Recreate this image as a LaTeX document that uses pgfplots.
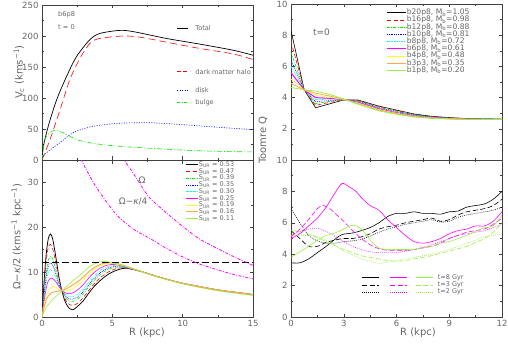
\documentclass[border=0pt]{standalone}
\usepackage{fontspec}
\setmainfont{DejaVu Sans}
\usepackage{pgfplots}
\pgfplotsset{compat=1.18}
\definecolor{labelgray}{HTML}{666666}
\definecolor{framegray}{HTML}{404040}
\definecolor{smgreen}{HTML}{00F000}
\definecolor{smcyan}{HTML}{00FFFF}
\definecolor{smmag}{HTML}{FF00FF}
\definecolor{smyellow}{HTML}{FFFF20}
\definecolor{smorange}{HTML}{FFA850}
\definecolor{smlime}{HTML}{99F040}
\newcommand{\ticksz}{\fontsize{8.5}{10}\selectfont}
\newcommand{\legsz}{\fontsize{6.6}{8}\selectfont}
\tikzset{
  c1/.style={color=black, line width=0.75pt},
  c2/.style={color=red, dash pattern=on 4pt off 2.5pt},
  c3/.style={color=smgreen, dash pattern=on 3pt off 1.3pt on 0.7pt off 1.3pt},
  c4/.style={color=blue, dash pattern=on 0.8pt off 1pt},
  c5/.style={color=smcyan, dash pattern=on 2.5pt off 1pt on 0.7pt off 1pt on 0.7pt off 1pt},
  c6/.style={color=smmag},
  c7/.style={color=smyellow},
  c8/.style={color=smorange, line width=1pt},
  c9/.style={color=smlime},
}
\pgfplotsset{
  panel/.style={
    scale only axis, width=211pt,
    axis line style={framegray, line width=0.6pt},
    tick style={framegray, line width=0.5pt},
    major tick length=3.5pt, minor tick length=2pt,
    minor tick num=1,
    tick label style={font=\ticksz, text=labelgray},
    /pgf/number format/assume math mode=true,
    every axis plot/.append style={line width=0.6pt},
    clip mode=individual,
  },
  smleg/.style={
    legend cell align=left,
    legend style={fill=none, draw=none, text=labelgray, inner sep=0pt,
      row sep=0pt, cells={anchor=west}},
  },
}
\begin{document}
\begin{tikzpicture}
\useasboundingbox (0,0) rectangle (508pt,343pt);

% ---------- top left: rotation curve ----------
\begin{axis}[panel, at={(42pt,183pt)}, anchor=south west, height=155pt,
  xmin=0, xmax=15, ymin=0, ymax=250, xtick={0,5,10,15}, xticklabels={},
  ytick={0,50,100,150,200,250}]
\addplot[black, smooth, tension=0.5, line width=0.7pt] coordinates {
(0,0) (0.1,22) (0.45,55) (1.04,97) (1.75,135) (2.46,167) (3.4,194) (4.1,204)
(5.5,209) (6.5,207) (8.85,196) (11.2,187) (13.6,177) (15,169)};
\addplot[red, smooth, tension=0.5, dash pattern=on 7pt off 4pt] coordinates {
(0,0) (0.57,33) (1.28,81) (1.99,130) (2.7,164) (3.4,188) (4.1,196) (5.8,200)
(7.0,198) (8.85,190) (11.2,180) (13.6,171) (15,162)};
\addplot[blue, smooth, tension=0.5, dash pattern=on 1pt off 1.5pt] coordinates {
(0,3) (0.33,12) (1.28,28) (2.2,44) (3.2,52) (4.1,56) (5.3,59) (6.5,60)
(7.9,60) (10,57) (12.4,53) (15,49)};
\addplot[smgreen, smooth, tension=0.5, dash pattern=on 5pt off 2pt on 1pt off 2pt] coordinates {
(0,0) (0.2,33) (0.57,44) (0.92,48) (1.5,44) (2.46,33) (3.6,27) (5.3,22.5)
(7.7,19) (10,16) (12.4,14) (15,13)};
\node[anchor=west, font=\legsz, text=labelgray] at (0.9,234) {b6p8};
\node[anchor=west, font=\legsz, text=labelgray] at (0.9,215) {t = 0};
\draw[black, line width=0.6pt] (9.6,212.5) -- (10.4,212.5);
\node[anchor=west, font=\legsz, text=labelgray] at (10.65,212.5) {Total};
\draw[red, line width=0.6pt, dash pattern=on 4pt off 2pt] (9.6,142.6) -- (10.4,142.6);
\node[anchor=west, font=\legsz, text=labelgray] at (10.65,142.6) {dark matter halo};
\draw[blue, line width=0.6pt, dash pattern=on 1pt off 1.5pt] (9.6,113.2) -- (10.4,113.2);
\node[anchor=west, font=\legsz, text=labelgray] at (10.65,113.2) {disk};
\draw[smgreen, line width=0.6pt, dash pattern=on 3pt off 1.5pt on 0.8pt off 1.5pt] (9.6,92.9) -- (10.4,92.9);
\node[anchor=west, font=\legsz, text=labelgray] at (10.65,92.9) {bulge};
\end{axis}

% ---------- bottom left: Omega - kappa/2 ----------
\begin{axis}[panel, smleg, at={(42pt,26pt)}, anchor=south west, height=157pt,
  xmin=0, xmax=15, ymin=0, ymax=35, xtick={0,5,10,15},
  ytick={0,10,20,30}, minor ytick={5,15,25,35},
  legend style={at={(rel axis cs:0.68,0.992)}, anchor=north west,
    font=\fontsize{6.5}{7}\selectfont,
    nodes={inner sep=0.3pt, text height=4.8pt, text depth=1.3pt}},
  legend image code/.code={\draw[#1] (0pt,0pt) -- (12pt,0pt);}]
\addplot[c1, smooth, tension=0.5] coordinates {
(0,0) (0.15,8) (0.3,14) (0.45,17.5) (0.6,18.5) (0.75,17.5) (0.9,15) (1.05,12)
(1.2,9) (1.4,6) (1.6,3.8) (1.8,2.5) (2.0,1.8) (2.2,1.6) (2.5,2.3) (2.9,3.5)
(3.3,5.2) (3.7,6.8) (4.2,8.3) (4.7,9.5) (5.2,10.3) (5.7,10.8) (6,10.9)
(7,10.2) (8,9.2) (9,8.3) (10,7.5) (11,6.9) (12,6.3) (13,5.8) (14,5.4) (15,5.0)};
\addlegendentry{S\textsubscript{UR} = 0.53}
\addplot[c2, smooth, tension=0.5] coordinates {
(0,0) (0.15,7) (0.3,12.5) (0.45,15.5) (0.6,16.2) (0.75,15.3) (0.9,13.3) (1.05,11)
(1.2,8.5) (1.4,6) (1.6,4.3) (1.8,3.2) (2.0,2.7) (2.2,2.6) (2.5,3.0) (2.9,4.2)
(3.3,5.8) (3.7,7.4) (4.2,8.9) (4.7,10) (5.2,10.7) (5.7,11) (6,10.9)
(7,10.2) (8,9.2) (9,8.3) (10,7.5) (11,6.9) (12,6.3) (13,5.8) (14,5.4) (15,5.0)};
\addlegendentry{S\textsubscript{UR} = 0.47}
\addplot[c3, smooth, tension=0.5] coordinates {
(0,0) (0.15,5.5) (0.3,10) (0.45,12.7) (0.6,13.5) (0.75,13) (0.9,11.5) (1.05,9.7)
(1.2,7.9) (1.4,6) (1.6,4.7) (1.8,3.9) (2.0,3.5) (2.2,3.5) (2.5,3.9) (2.9,5.0)
(3.3,6.6) (3.7,8.1) (4.2,9.6) (4.7,10.6) (5.2,11.1) (5.7,11.1) (6,11)
(7,10.2) (8,9.2) (9,8.3) (10,7.5) (11,6.9) (12,6.3) (13,5.8) (14,5.4) (15,5.0)};
\addlegendentry{S\textsubscript{UR} = 0.39}
\addplot[c4, smooth, tension=0.5] coordinates {
(0,0) (0.15,5) (0.3,9) (0.45,11.3) (0.6,12) (0.75,11.6) (0.9,10.4) (1.05,8.9)
(1.2,7.4) (1.4,6) (1.6,5) (1.8,4.3) (2.0,4.0) (2.2,4.0) (2.5,4.4) (2.9,5.5)
(3.3,7.1) (3.7,8.6) (4.2,10) (4.7,10.9) (5.2,11.3) (5.7,11.2) (6,11)
(7,10.2) (8,9.2) (9,8.3) (10,7.5) (11,6.9) (12,6.3) (13,5.8) (14,5.4) (15,5.0)};
\addlegendentry{S\textsubscript{UR} = 0.35}
\addplot[c5, smooth, tension=0.5] coordinates {
(0,0) (0.15,4.3) (0.3,7.8) (0.45,9.9) (0.6,10.5) (0.75,10.2) (0.9,9.3) (1.05,8.1)
(1.2,7) (1.4,6) (1.6,5.2) (1.8,4.7) (2.0,4.5) (2.2,4.5) (2.5,5) (2.9,6.1)
(3.3,7.7) (3.7,9.1) (4.2,10.5) (4.7,11.2) (5.2,11.5) (5.7,11.3) (6,11.1)
(7,10.2) (8,9.2) (9,8.3) (10,7.5) (11,6.9) (12,6.3) (13,5.8) (14,5.4) (15,5.0)};
\addlegendentry{S\textsubscript{UR} = 0.30}
\addplot[c6, smooth, tension=0.5] coordinates {
(0,0) (0.15,3.5) (0.3,6.4) (0.45,8.1) (0.65,8.7) (0.8,8.5) (1.0,7.8) (1.2,6.8)
(1.4,6.0) (1.6,5.5) (1.8,5.2) (2.0,5.2) (2.2,5.4) (2.5,6) (2.9,7.1) (3.3,8.6)
(3.7,9.9) (4.2,11) (4.7,11.6) (5.2,11.7) (5.7,11.4) (6,11.1)
(7,10.2) (8,9.2) (9,8.3) (10,7.5) (11,6.9) (12,6.3) (13,5.8) (14,5.4) (15,5.0)};
\addlegendentry{S\textsubscript{UR} = 0.25}
\addplot[c7, smooth, tension=0.5] coordinates {
(0,0) (0.15,2.7) (0.3,4.8) (0.5,6.2) (0.75,6.8) (1.0,6.6) (1.2,6.2) (1.4,5.9)
(1.6,5.8) (1.8,5.9) (2.0,6.1) (2.2,6.4) (2.5,7) (2.9,8.1) (3.3,9.4) (3.7,10.6)
(4.2,11.5) (4.7,11.9) (5.2,11.8) (5.7,11.5) (6,11.2)
(7,10.2) (8,9.2) (9,8.3) (10,7.5) (11,6.9) (12,6.3) (13,5.8) (14,5.4) (15,5.0)};
\addlegendentry{S\textsubscript{UR} = 0.19}
\addplot[c8, smooth, tension=0.5] coordinates {
(0,0) (0.15,2.2) (0.3,3.8) (0.5,4.9) (0.75,5.5) (1.0,5.7) (1.2,5.8) (1.4,5.9)
(1.6,6.1) (1.8,6.4) (2.0,6.8) (2.2,7.2) (2.5,7.8) (2.9,8.8) (3.3,10) (3.7,11)
(4.2,11.8) (4.7,12.1) (5.2,12) (5.7,11.6) (6,11.3)
(7,10.2) (8,9.2) (9,8.3) (10,7.5) (11,6.9) (12,6.3) (13,5.8) (14,5.4) (15,5.0)};
\addlegendentry{S\textsubscript{UR} = 0.16}
\addplot[c9, smooth, tension=0.5] coordinates {
(0,0) (0.15,1.2) (0.3,2.1) (0.5,3) (0.75,3.9) (1.0,4.6) (1.2,5.2) (1.4,5.8)
(1.6,6.4) (1.8,7) (2.0,7.5) (2.2,8.1) (2.5,8.8) (2.9,9.9) (3.3,11) (3.7,11.8)
(4.2,12.35) (4.7,12.3) (5.2,12) (5.7,11.6) (6,11.3)
(7,10.2) (8,9.1) (9,8.2) (10,7.4) (11,6.7) (12,6.1) (13,5.6) (14,5.2) (15,4.8)};
\addlegendentry{S\textsubscript{UR} = 0.11}
\addplot[forget plot, black, line width=0.7pt, dash pattern=on 7pt off 3pt] coordinates {(0,12.24) (15,12.24)};
\addplot[forget plot, smmag, smooth, tension=0.5, line width=0.8pt, dash pattern=on 3pt off 1.5pt on 0.8pt off 1.5pt] coordinates {
(5.3,40) (5.77,35.5) (6.5,32) (7.0,29.5) (7.68,26.5) (8.85,23.2) (10,20.2)
(11.2,17.4) (12.4,15.4) (13.6,13.5) (15,11.5)};
\addplot[forget plot, smmag, smooth, tension=0.5, line width=0.8pt, dash pattern=on 3pt off 1.5pt on 0.8pt off 1.5pt] coordinates {
(2.4,38) (2.8,35) (3.5,30.8) (4.1,27.8) (5.3,22.8) (6.5,19.6) (7.68,17.5)
(8.85,15.3) (10,13.4) (11.2,11.8) (12.4,10.6) (13.6,9.5) (15,8.5)};
\node[font=\fontsize{9}{10}\selectfont, text=labelgray] at (7.12,30.4) {Ω};
\node[font=\fontsize{9}{10}\selectfont, text=labelgray] at (6.48,25.7) {Ω−\textit{κ}/4};
\end{axis}

% ---------- top right: Toomre Q at t=0 ----------
\begin{axis}[panel, smleg, at={(291pt,183pt)}, anchor=south west, height=156pt,
  xmin=0, xmax=12, ymin=0, ymax=10, xtick={0,3,6,9,12}, xticklabels={},
  ytick={2,4,6,8,10}, minor ytick={1,3,5,7,9},
  legend style={at={(rel axis cs:0.452,0.968)}, anchor=north west,
    font=\fontsize{7.6}{8}\selectfont,
    nodes={inner sep=0.2pt, text height=5.4pt, text depth=1.4pt}},
  legend image code/.code={\draw[#1] (0pt,0pt) -- (19pt,0pt);}]
\addplot[c1, line width=0.6pt] coordinates {(0,8.3) (0.75,4.5) (1.4,3.35) (2.2,3.6) (3.0,3.85) (3.8,3.85) (5,3.45) (6,3.2) (7,2.95) (8,2.8) (9,2.72) (10,2.66) (11,2.63) (12,2.62)};
\addlegendentry{b20p8, M\textsubscript{b}=1.05}
\addplot[c2] coordinates {(0,7.6) (0.75,4.5) (1.4,3.5) (2.2,3.7) (3.0,3.85) (3.8,3.82) (5,3.42) (6,3.17) (7,2.92) (8,2.78) (9,2.70) (10,2.65) (11,2.62) (12,2.62)};
\addlegendentry{b16p8, M\textsubscript{b}=0.98}
\addplot[c3] coordinates {(0,6.9) (0.75,4.5) (1.4,3.62) (2.2,3.75) (3.0,3.85) (3.8,3.8) (5,3.38) (6,3.13) (7,2.9) (8,2.76) (9,2.69) (10,2.64) (11,2.62) (12,2.62)};
\addlegendentry{b12p8, M\textsubscript{b}=0.88}
\addplot[c4] coordinates {(0,6.4) (0.75,4.5) (1.4,3.75) (2.2,3.8) (3.0,3.87) (3.8,3.77) (5,3.35) (6,3.1) (7,2.88) (8,2.75) (9,2.68) (10,2.63) (11,2.61) (12,2.62)};
\addlegendentry{b10p8, M\textsubscript{b}=0.81}
\addplot[c5] coordinates {(0,6.0) (0.75,4.5) (1.4,3.88) (2.2,3.87) (3.0,3.87) (3.8,3.73) (5,3.32) (6,3.07) (7,2.85) (8,2.73) (9,2.67) (10,2.63) (11,2.61) (12,2.61)};
\addlegendentry{b8p8, M\textsubscript{b}=0.72}
\addplot[c6, line width=1pt] coordinates {(0,5.6) (0.75,4.5) (1.4,4.0) (2.2,3.95) (3.0,3.88) (3.8,3.7) (5,3.28) (6,3.03) (7,2.82) (8,2.71) (9,2.66) (10,2.62) (11,2.61) (12,2.61)};
\addlegendentry{b6p8, M\textsubscript{b}=0.61}
\addplot[c7] coordinates {(0,5.2) (0.75,4.5) (1.4,4.15) (2.2,4.02) (3.0,3.88) (3.8,3.66) (5,3.24) (6,3.0) (7,2.8) (8,2.7) (9,2.65) (10,2.62) (11,2.6) (12,2.61)};
\addlegendentry{b4p8, M\textsubscript{b}=0.48}
\addplot[c8, line width=0.8pt] coordinates {(0,4.9) (0.75,4.5) (1.4,4.28) (2.2,4.1) (3.0,3.9) (3.8,3.62) (5,3.2) (6,2.97) (7,2.78) (8,2.68) (9,2.64) (10,2.61) (11,2.6) (12,2.6)};
\addlegendentry{b3p3, M\textsubscript{b}=0.35}
\addplot[c9, line width=0.8pt] coordinates {(0,4.65) (0.75,4.5) (1.4,4.42) (2.2,4.2) (3.0,3.9) (3.8,3.58) (5,3.15) (6,2.93) (7,2.76) (8,2.67) (9,2.63) (10,2.6) (11,2.59) (12,2.6)};
\addlegendentry{b1p8, M\textsubscript{b}=0.20}
\node[anchor=west, font=\fontsize{9}{10}\selectfont, text=labelgray] at (1.05,8.18) {t=0};
\end{axis}

% ---------- bottom right: Toomre Q evolution ----------
\begin{axis}[panel, at={(291pt,26pt)}, anchor=south west, height=157pt,
  xmin=0, xmax=12, ymin=0, ymax=10, xtick={0,3,6,9,12},
  ytick={0,2,4,6,8,10}, minor ytick={1,3,5,7,9}]
\addplot[black, smooth] coordinates {
(0,3.45) (0.5,3.45) (1,3.7) (1.5,4.1) (2,4.5) (2.5,4.95) (2.9,5.25) (3.5,5.35)
(4,5.5) (4.5,5.7) (5,6.0) (5.5,6.4) (6,6.6) (6.5,6.6) (7,6.7) (7.5,6.6) (8,6.6)
(8.5,6.55) (9,6.7) (9.5,6.75) (10,7.0) (10.5,7.1) (11,7.2) (11.5,7.5) (12,8.0)};
\addplot[black, smooth, dash pattern=on 5pt off 2.5pt] coordinates {
(0,5.5) (0.5,5.0) (1,4.5) (1.5,4.5) (2,4.75) (2.5,4.9) (3,5.0) (3.5,5.0) (4,5.1)
(4.5,5.3) (5,5.6) (5.5,5.75) (6,5.85) (6.5,6.0) (7,6.1) (7.5,6.2) (8,6.3)
(8.5,6.1) (9,6.2) (9.5,6.5) (10,6.7) (10.5,6.8) (11,6.9) (11.5,7.1) (12,7.5)};
\addplot[black, smooth, dash pattern=on 0.8pt off 1.2pt] coordinates {
(0,6.9) (0.5,6.0) (1,5.2) (1.5,4.85) (2,4.7) (2.5,4.7) (3,4.8) (3.5,4.85)
(4,4.95) (4.5,5.15) (5,5.4) (5.5,5.6) (6,5.75) (6.5,5.9) (7,6.0) (7.5,6.1)
(8,6.2) (8.5,6.05) (9,6.1) (9.5,6.35) (10,6.5) (10.5,6.6) (11,6.7) (11.5,6.8) (12,7.0)};
\addplot[smmag, smooth] coordinates {
(0,5.0) (0.5,5.3) (1,5.8) (1.5,6.3) (2,7.0) (2.5,7.9) (2.9,8.5) (3.3,8.3)
(3.7,8.0) (4,7.6) (4.5,7.1) (5,6.8) (5.5,6.2) (6,5.7) (6.5,5.2) (7,4.8) (7.5,4.7)
(8,4.8) (8.5,5.0) (9,5.3) (9.5,5.5) (10,5.6) (10.5,5.8) (11,5.8) (11.5,6.1) (12,6.7)};
\addplot[smmag, smooth, dash pattern=on 5pt off 2.5pt] coordinates {
(0,5.1) (0.5,5.6) (1,6.2) (1.5,6.9) (1.8,7.1) (2.2,6.9) (2.6,6.5) (3,6.1)
(3.5,5.5) (4,5.0) (4.5,4.6) (5,4.35) (5.5,4.25) (6,4.25) (6.5,4.25) (7,4.3)
(7.5,4.4) (8,4.5) (8.5,4.7) (9,5.0) (9.5,5.2) (10,5.4) (10.5,5.5) (11,5.6) (11.5,5.9) (12,6.3)};
\addplot[smmag, smooth, dash pattern=on 0.8pt off 1.2pt] coordinates {
(0,5.2) (0.5,5.45) (1,5.6) (1.5,5.65) (2,5.45) (2.5,5.15) (3,4.8) (3.5,4.5)
(4,4.3) (4.5,4.15) (5,4.1) (5.5,4.1) (6,4.1) (6.5,4.2) (7,4.3) (7.5,4.45)
(8,4.6) (8.5,4.8) (9,5.0) (9.5,5.2) (10,5.3) (10.5,5.4) (11,5.5) (11.5,5.7) (12,5.9)};
\addplot[smlime, smooth] coordinates {
(0,3.8) (0.5,4.15) (1,4.5) (1.5,4.9) (2,5.2) (2.5,5.35) (3,5.6) (3.5,5.85)
(4,5.6) (4.5,4.9) (5,4.4) (5.5,4.3) (6,4.3) (6.5,4.3) (7,4.3) (7.5,4.4) (8,4.5)
(8.5,4.7) (9,4.8) (9.5,5.0) (10,5.2) (10.5,5.45) (11,5.7) (11.5,5.8) (12,6.5)};
\addplot[smlime, smooth, dash pattern=on 5pt off 2.5pt] coordinates {
(0,5.5) (0.5,5.45) (1,5.3) (1.5,5.05) (2,4.8) (2.5,4.55) (3,4.3) (3.5,4.1)
(4,3.9) (4.5,3.8) (5,3.7) (5.5,3.6) (6,3.55) (6.5,3.6) (7,3.7) (7.5,3.8) (8,3.9)
(8.5,4.05) (9,4.2) (9.5,4.35) (10,4.5) (10.5,4.75) (11,5.0) (11.5,5.4) (12,6.0)};
\addplot[smlime, smooth, dash pattern=on 0.8pt off 1.2pt] coordinates {
(0,5.2) (0.5,5.2) (1,5.2) (1.5,5.1) (2,4.9) (2.5,4.55) (3,4.2) (3.5,3.95)
(4,3.7) (4.5,3.55) (5,3.4) (5.5,3.5) (6,3.6) (6.5,3.7) (7,3.8) (7.5,3.9) (8,4.0)
(8.5,4.15) (9,4.3) (9.5,4.5) (10,4.7) (10.5,4.9) (11,5.1) (11.5,5.2) (12,5.3)};
% hand-placed legend as in the original
\draw[black, line width=0.6pt] (4.04,2.51) -- (5.0,2.51);
\draw[smmag, line width=0.6pt] (5.63,2.51) -- (6.6,2.51);
\draw[smlime, line width=0.6pt] (7.1,2.51) -- (8.07,2.51);
\draw[black, line width=0.6pt, dash pattern=on 5pt off 2.5pt] (4.04,2.04) -- (5.0,2.04);
\draw[smmag, line width=0.6pt, dash pattern=on 5pt off 2.5pt] (5.63,2.04) -- (6.6,2.04);
\draw[smlime, line width=0.6pt, dash pattern=on 5pt off 2.5pt] (7.1,2.04) -- (8.07,2.04);
\draw[black, line width=0.6pt, dash pattern=on 0.8pt off 1.2pt] (4.04,1.6) -- (5.0,1.6);
\draw[smmag, line width=0.6pt, dash pattern=on 0.8pt off 1.2pt] (5.63,1.6) -- (6.6,1.6);
\draw[smlime, line width=0.6pt, dash pattern=on 0.8pt off 1.2pt] (7.1,1.6) -- (8.07,1.6);
\node[anchor=west, font=\fontsize{6.5}{7}\selectfont, text=labelgray] at (8.15,2.51) {t=8 Gyr};
\node[anchor=west, font=\fontsize{6.5}{7}\selectfont, text=labelgray] at (8.15,2.04) {t=3 Gyr};
\node[anchor=west, font=\fontsize{6.5}{7}\selectfont, text=labelgray] at (8.15,1.6) {t=2 Gyr};
\end{axis}

% ---------- axis titles ----------
\node[rotate=90, font=\fontsize{10}{12}\selectfont, text=labelgray] at (19pt,271pt) {V\textsubscript{c} (kms\textsuperscript{−1})};
\node[rotate=90, font=\fontsize{10}{12}\selectfont, text=labelgray] at (17pt,106pt) {Ω−\textit{κ}/2 (kms\textsuperscript{−1} kpc\textsuperscript{−1})};
\node[rotate=90, font=\fontsize{10}{12}\selectfont, text=labelgray] at (263pt,203pt) {Toomre Q};
\node[font=\fontsize{10}{12}\selectfont, text=labelgray] at (147pt,10pt) {R (kpc)};
\node[font=\fontsize{10}{12}\selectfont, text=labelgray] at (418pt,10pt) {R (kpc)};
\end{tikzpicture}
\end{document}
